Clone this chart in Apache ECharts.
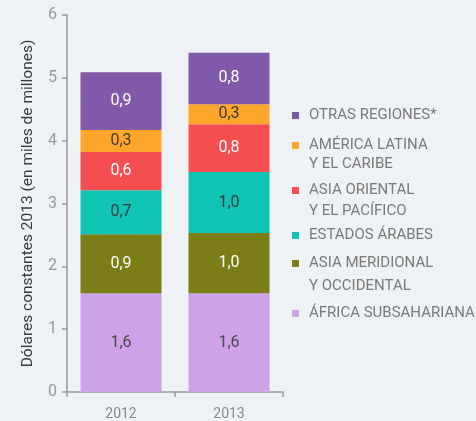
<!DOCTYPE html>
<html><head><meta charset="utf-8">
<script src="https://cdn.jsdelivr.net/npm/echarts@6/dist/echarts.min.js"></script>
<style>html,body{margin:0;padding:0;background:#eef2f4;}#c{width:476px;height:421px;}</style>
</head><body><div id="c"></div>
<script>
var categories = ['2012', '2013'];
var seriesNames = ['ÁFRICA SUBSAHARIANA', 'ASIA MERIDIONAL\nY OCCIDENTAL', 'ESTADOS ÁRABES', 'ASIA ORIENTAL\nY EL PACÍFICO', 'AMÉRICA LATINA\nY EL CARIBE', 'OTRAS REGIONES*'];
var africa = [1.57, 1.57];
var asiaMeridional = [0.94, 0.96];
var estadosArabes = [0.70, 0.97];
var asiaOriental = [0.61, 0.76];
var americaLatina = [0.35, 0.32];
var otras = [0.92, 0.82];
var yTicks = [0, 1, 2, 3, 4, 5, 6];

var colors = ['#cda2e8', '#7b7d16', '#10c4b4', '#f54e50', '#ffa62b', '#7f5aa8'];
var labelColors = ['#4a4a4a', '#ffffff', '#3a3a3a', '#ffffff', '#3a3a3a', '#ffffff'];
var values = [africa, asiaMeridional, estadosArabes, asiaOriental, americaLatina, otras];

var series = values.map(function (v, i) {
  return {
    name: seriesNames[i], type: 'bar', stack: 'total', data: v, barWidth: '75%',
    itemStyle: { color: colors[i] },
    label: { show: true, position: 'inside', color: labelColors[i], fontSize: 16, fontFamily: 'Roboto',
      formatter: function (p) { return p.value.toFixed(1).replace('.', ','); } }
  };
});

// legend positions (centre of first line), top to bottom
var legendOrder = [5, 4, 3, 2, 1, 0];
var legendCentres = [115.5, 145.5, 190.5, 235.5, 263.5, 313.5];
var legendLine = [20, 19, 21, 20, 23, 20];
var legends = legendOrder.map(function (si, k) {
  var twoLines = seriesNames[si].indexOf('\n') >= 0;
  var lh = legendLine[k];
  return {
    left: 292, top: legendCentres[k] - (twoLines ? lh * 1.5 : lh / 2), padding: 0,
    orient: 'vertical', itemWidth: 7, itemHeight: 7, icon: 'rect',
    selectedMode: false,
    formatter: function (n) { return n.indexOf('\n') >= 0 ? '\n' + n : n; },
    data: [{ name: seriesNames[si], itemStyle: { color: colors[si] } }],
    textStyle: { color: '#7a7a7a', fontSize: 15, fontFamily: 'Roboto', lineHeight: lh,
      padding: [0, 0, 0, 5] }
  };
});

var chart = echarts.init(document.getElementById('c'));
chart.setOption({
  backgroundColor: '#eef2f4',
  animation: false,
  grid: { left: 67, right: 193, top: 15, bottom: 29 },
  legend: legends,
  xAxis: {
    type: 'category', data: categories,
    axisLine: { lineStyle: { color: '#9a9a9a', width: 1.5 } },
    axisTick: { show: true, length: 5, lineStyle: { color: '#9a9a9a', width: 1.5 } },
    axisLabel: { color: '#8a8a8a', fontSize: 14, fontFamily: 'Roboto', margin: 15 }
  },
  yAxis: {
    type: 'value', min: 0, max: 6, interval: 1,
    name: 'Dólares constantes 2013 (en miles de millones)', nameLocation: 'middle', nameGap: 31,
    nameTextStyle: { color: '#3a3a3a', fontSize: 15.5, fontFamily: 'Roboto' },
    axisLine: { show: true, lineStyle: { color: '#9a9a9a', width: 1.5 } },
    axisTick: { show: true, length: 5, lineStyle: { color: '#9a9a9a', width: 1.5 } },
    splitLine: { show: false },
    axisLabel: { color: '#999999', fontSize: 16, fontFamily: 'Roboto', margin: 10,
      formatter: function (v) { return yTicks.indexOf(v) >= 0 ? String(v) : ''; } }
  },
  series: series
});
</script></body></html>
